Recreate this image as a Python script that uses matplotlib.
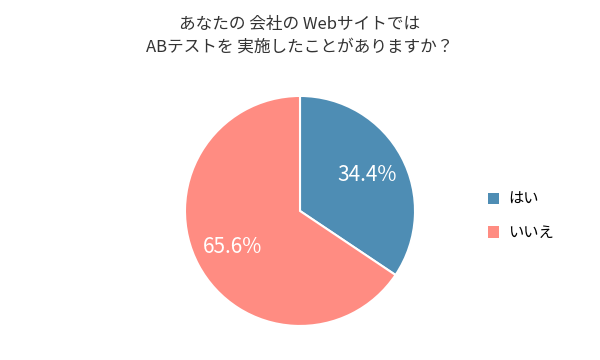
import matplotlib
matplotlib.use('Agg')
import matplotlib.pyplot as plt
from matplotlib.patches import Patch

plt.rcParams['font.family'] = ['Noto Sans CJK JP', 'DejaVu Sans']

labels = ['はい', 'いいえ']
values = [34.4, 65.6]
colors = ['#4E8DB4', '#FF8C82']
title = 'あなたの 会社の Webサイトでは\nABテストを 実施したことがありますか？'

fig = plt.figure(figsize=(6, 3.6), dpi=100)
ax = fig.add_axes([0.3045, 0.088, 0.391, 0.652])
wedges, texts, autotexts = ax.pie(
    values, colors=colors, startangle=90, counterclock=False,
    autopct='%.1f%%', pctdistance=0.66,
    wedgeprops=dict(edgecolor='white', linewidth=1.5),
    textprops=dict(color='white', fontsize=15),
)
ax.set_xlim(-1.02, 1.02)
ax.set_ylim(-1.02, 1.02)
ax.set_aspect('equal')

fig.text(0.5, 0.9, title, ha='center', va='center', fontsize=12,
         color='#333333', linespacing=1.4)

handles = [Patch(facecolor=c, edgecolor='none') for c in colors]
fig.legend(handles, labels, loc='center left', bbox_to_anchor=(0.79, 0.4),
           frameon=False, fontsize=11, handlelength=0.75, handleheight=0.75,
           labelspacing=1.1, handletextpad=0.6)

fig.savefig('out.png', dpi=100, facecolor='white')
